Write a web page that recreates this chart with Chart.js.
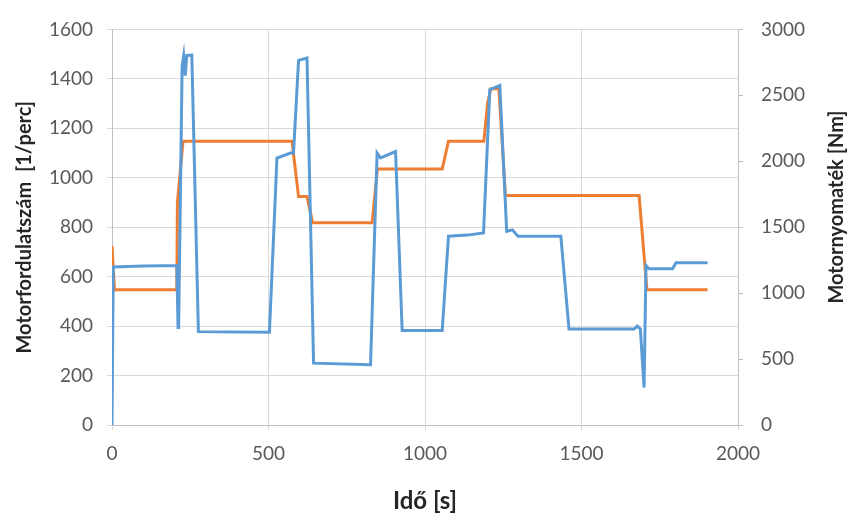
<!DOCTYPE html>
<html>
<head>
<meta charset="utf-8">
<script src="https://cdn.jsdelivr.net/npm/chart.js@4"></script>
<style>
  html, body { margin: 0; padding: 0; background: #fff; }
  #wrap { width: 850px; height: 524px; }
</style>
</head>
<body>
<div id="wrap"><canvas id="engineChart" width="850" height="524"></canvas></div>
<script>
// engine speed (left axis) and torque (right axis) over time

const speedTime   = [0, 8, 207, 209, 227, 575, 596, 623, 641, 831, 848, 1055, 1075, 1188, 1200, 1210, 1236, 1257, 1684, 1709, 1903];
const speedValues = [724, 547, 547, 900, 1148, 1148, 924, 924, 818, 818, 1035, 1035, 1148, 1148, 1300, 1360, 1360, 928, 928, 547, 547];

const torqueTime   = [0, 4, 100, 207, 211, 213, 224, 229, 234, 239, 255, 276, 400, 503, 527, 570, 580, 596, 623, 644, 826, 847, 858, 906, 927, 1055, 1075, 1135, 1187, 1207, 1239, 1261, 1279, 1297, 1434, 1460, 1668, 1678, 1688, 1700, 1706, 1715, 1791, 1802, 1903];
const torqueValues = [0, 1198, 1205, 1210, 740, 760, 2720, 2800, 2650, 2802, 2805, 708, 705, 704, 2025, 2062, 2062, 2765, 2783, 469, 457, 2062, 2025, 2074, 716, 716, 1432, 1440, 1457, 2543, 2575, 1469, 1480, 1432, 1432, 728, 728, 750, 728, 284, 1210, 1185, 1185, 1230, 1230];

const xTicks = [0, 500, 1000, 1500, 2000];

function points(xs, ys) {
  return xs.map((x, i) => ({ x: x, y: ys[i] }));
}

const font = 'Lato, "Open Sans", sans-serif';
const gridColor = '#d9d9d9';
const tickColor = '#595959';
const plain = v => String(v);

// right axis title reads bottom-to-top like the left one
const rightTitle = {
  id: 'rightTitle',
  afterDraw(chart) {
    const ctx = chart.ctx;
    ctx.save();
    ctx.translate(837, 207);
    ctx.rotate(-Math.PI / 2);
    ctx.font = 'bold 20px ' + font;
    ctx.fillStyle = '#262626';
    ctx.textAlign = 'center';
    ctx.textBaseline = 'middle';
    ctx.fillText('Motornyomaték [Nm]', 0, 0);
    ctx.restore();
  }
};

new Chart(document.getElementById('engineChart'), {
  type: 'line',
  data: {
    datasets: [{
      label: 'Motornyomaték',
      data: points(torqueTime, torqueValues),
      yAxisID: 'yRight',
      borderColor: '#5b9bd5',
      borderWidth: 3,
      pointRadius: 0,
      tension: 0
    }, {
      label: 'Motorfordulatszám',
      data: points(speedTime, speedValues),
      yAxisID: 'yLeft',
      borderColor: '#ed7d31',
      borderWidth: 3,
      pointRadius: 0,
      tension: 0
    }]
  },
  options: {
    responsive: false,
    animation: false,
    layout: { padding: { top: 20, right: 0, left: 0, bottom: 0 } },
    plugins: {
      legend: { display: false },
      tooltip: { enabled: false }
    },
    scales: {
      x: {
        type: 'linear',
        min: 0,
        max: 2000,
        afterBuildTicks: s => { s.ticks = xTicks.map(v => ({ value: v })); },
        afterFit: s => { s.height = 99; },
        grid: { color: gridColor, tickLength: 5 },
        border: { color: '#bfbfbf' },
        ticks: { color: tickColor, font: { family: font, size: 19 }, padding: 12, callback: plain },
        title: {
          display: true,
          text: 'Idő [s]',
          color: '#262626',
          font: { family: font, size: 24, weight: 'bold' },
          padding: { top: 0, bottom: 8 }
        }
      },
      yLeft: {
        position: 'left',
        min: 0,
        max: 1600,
        ticks: { stepSize: 200, color: tickColor, font: { family: font, size: 19 }, padding: 14, callback: plain },
        afterFit: s => { s.width = 112; },
        grid: { color: gridColor, tickLength: 5 },
        border: { color: '#bfbfbf' },
        title: {
          display: true,
          text: 'Motorfordulatszám  [1/perc]',
          color: '#262626',
          font: { family: font, size: 20, weight: 'bold' },
          padding: { top: 13, bottom: 0 }
        }
      },
      yRight: {
        position: 'right',
        min: 0,
        max: 3000,
        ticks: { stepSize: 500, color: tickColor, font: { family: font, size: 19 }, padding: 18, callback: plain },
        afterFit: s => { s.width = 112; },
        grid: { drawOnChartArea: false, color: '#bfbfbf', tickLength: 5 },
        border: { color: '#bfbfbf' }
      }
    }
  },
  plugins: [rightTitle]
});
</script>
</body>
</html>
